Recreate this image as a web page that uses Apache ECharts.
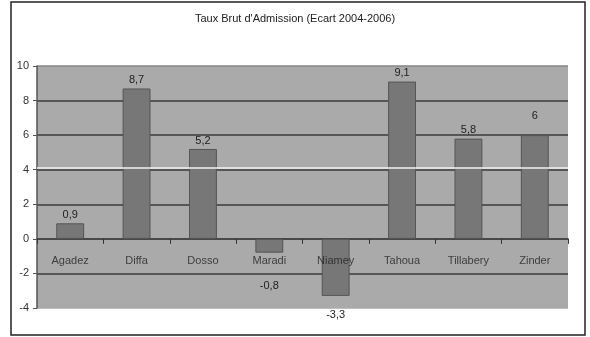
<!DOCTYPE html>
<html><head><meta charset="utf-8">
<script src="https://cdn.jsdelivr.net/npm/echarts@6/dist/echarts.min.js"></script>
<style>html,body{margin:0;padding:0;background:#fff}#c{width:590px;height:337px}</style>
</head><body><div id="c"></div>
<script>
const categories = ['Agadez','Diffa','Dosso','Maradi','Niamey','Tahoua','Tillabery','Zinder'];
const values = [0.9, 8.7, 5.2, -0.8, -3.3, 9.1, 5.8, 6];
const refLineValue = 4.1;
const titleText = "Taux Brut d'Admission (Ecart 2004-2006)";

const labelDist = [3, 3, 3, 28, 14, 3, 3, 14];
const fmt = v => String(v).replace('.', ',');
const font = { fontFamily: 'Liberation Sans', fontSize: 11, color: '#222' };
const chart = echarts.init(document.getElementById('c'));
chart.setOption({
  backgroundColor: '#fff',
  animation: false,
  title: { text: titleText, left: 'center', top: 8,
    textStyle: { fontFamily: 'Liberation Sans', fontSize: 11, fontWeight: 'normal', color: '#222' } },
  graphic: [{ type: 'rect', shape: { x: 11, y: 2, width: 574, height: 333 },
    style: { fill: 'none', stroke: '#222', lineWidth: 1.5 }, z: 100 }],
  grid: { left: 37, right: 22, top: 66, bottom: 29, show: true, backgroundColor: '#aaaaaa', borderWidth: 0 },
  xAxis: { type: 'category', data: categories,
    axisLine: { onZero: true, lineStyle: { color: '#444', width: 1.5 } },
    axisTick: { show: true, length: 5, lineStyle: { color: '#333' } },
    axisLabel: { show: false } },
  yAxis: { type: 'value', min: -4, max: 10, interval: 2,
    axisLine: { show: true, lineStyle: { color: '#555', width: 1.5 } },
    axisTick: { show: true, length: 4, lineStyle: { color: '#555' } },
    axisLabel: { margin: 8, fontFamily: 'Liberation Sans', fontSize: 11, color: '#333' },
    splitLine: { lineStyle: { color: ['#aaaaaa','#3a3a3a','#3a3a3a','#3a3a3a','#3a3a3a','#3a3a3a','#3a3a3a','#858585'], width: 1.5 } } },
  series: [{
    type: 'bar', barWidth: '42%',
    data: values.map((v, i) => ({ value: v,
      label: { position: v < 0 ? 'bottom' : 'top', distance: labelDist[i] } })),
    itemStyle: { color: '#777777', borderColor: '#555', borderWidth: 1 },
    label: Object.assign({ show: true, formatter: p => fmt(p.value) }, font),
    markLine: { silent: true, symbol: 'none', label: { show: false },
      lineStyle: { color: '#f2f2f2', width: 1.5, type: 'solid' },
      data: [{ yAxis: refLineValue }] }
  }, {
    type: 'scatter', symbolSize: 1, silent: true, z: 10,
    itemStyle: { color: 'rgba(0,0,0,0)' },
    data: categories.map(c => [c, 0]),
    label: Object.assign({ show: true, position: 'bottom', distance: 16,
      formatter: p => p.value[0] }, font)
  }]
});
</script></body></html>
